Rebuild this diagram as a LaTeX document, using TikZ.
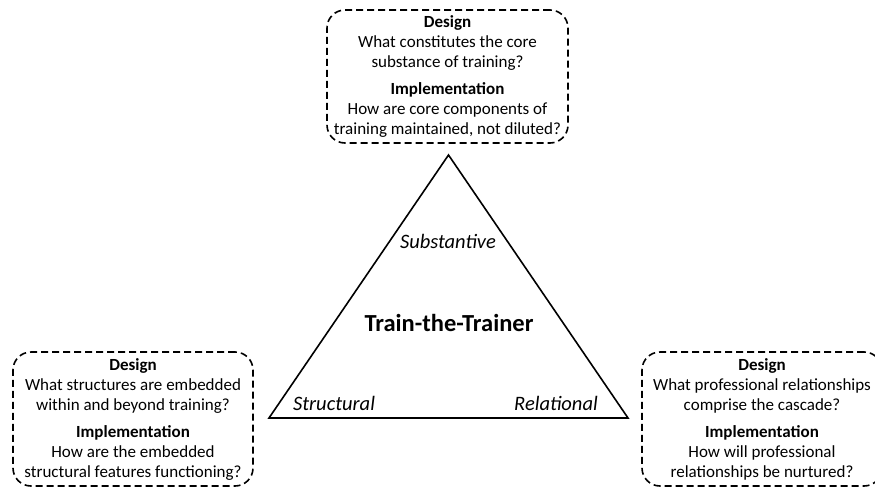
\documentclass[tikz,border=0pt]{standalone}
\usepackage{fontspec}
\setmainfont{Carlito}
\begin{document}
\begin{tikzpicture}[x=1pt,y=-1pt,
  qbox/.style={draw, line width=1.6pt, dash pattern=on 7pt off 4pt,
    rounded corners=18pt, inner sep=0pt, align=center,
    font=\fontsize{17}{20}\selectfont},
  tri/.style={draw, line width=1.6pt, line join=miter},
  corner/.style={font=\fontsize{20.5}{24}\selectfont\itshape, inner sep=0pt},
  title/.style={font=\fontsize{24.5}{28}\selectfont\bfseries, inner sep=0pt}]
\useasboundingbox (0,0) rectangle (875,487);

% question boxes, one per dimension
\node[qbox, minimum width=241pt, minimum height=133pt] (top) at (447.5,76.5)
  {\textbf{Design}\\What constitutes the core\\substance of training?\\[7pt]
   \textbf{Implementation}\\How are core components of\\training maintained, not diluted?};
\node[qbox, minimum width=240pt, minimum height=134pt] (left) at (133,419)
  {\textbf{Design}\\What structures are embedded\\within and beyond training?\\[7pt]
   \textbf{Implementation}\\How are the embedded\\structural features functioning?};
\node[qbox, minimum width=240pt, minimum height=134pt] (right) at (762,419)
  {\textbf{Design}\\What professional relationships\\comprise the cascade?\\[7pt]
   \textbf{Implementation}\\How will professional\\relationships be nurtured?};

% central triangle
\coordinate (apex) at (448.5,155);
\coordinate (bl) at (269,418);
\coordinate (br) at (628,418);
\draw[tri] (apex) -- (bl) -- (br) -- cycle;

\node[corner] (subst) at (448,241) {Substantive};
\node[corner] (struct) at (334,403) {Structural};
\node[corner] (rel) at (556,403) {Relational};
\node[title] (ttt) at (449,323) {Train-the-Trainer};
\end{tikzpicture}
\end{document}
